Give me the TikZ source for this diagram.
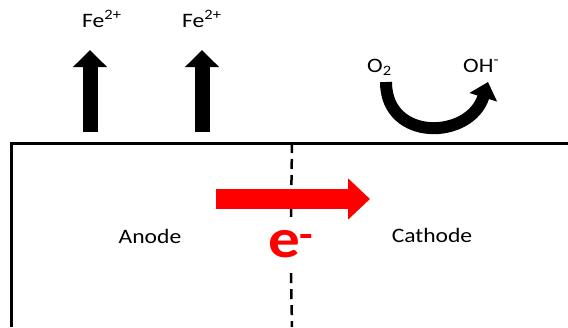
\documentclass[tikz,border=0pt]{standalone}
\usepackage{fontspec}
\setmainfont{Carlito}[FakeStretch=1.15]
\usetikzlibrary{arrows.meta,positioning}

\begin{document}
\begin{tikzpicture}[
  x=1pt,y=-1pt,
  tag/.style={font=\fontsize{20.5}{24}\selectfont,inner sep=0pt},
  ion/.style={line width=15pt,-{Triangle[width=33pt,length=17pt]}},
  eflow/.style={red,line width=20pt,-{Triangle[width=40pt,length=22pt]}},
  swing/.style={line width=12pt,-{Triangle[width=28pt,length=16pt]}},
  divider/.style={line width=2.5pt,dash pattern=on 10pt off 6pt}
]
  \useasboundingbox (0,0) rectangle (568,327);

  % metal surface
  \draw[line width=3pt] (11,327) |- (568,143);

  % labels
  \node[tag,anchor=base west] (fe1) at (82,27) {Fe\textsuperscript{2+}};
  \node[tag,anchor=base west] (fe2) at (182,27) {Fe\textsuperscript{2+}};
  \node[tag,anchor=base west] (o2) at (367,72) {O\textsubscript{2}};
  \node[tag,anchor=base west] (oh) at (463,72) {OH\textsuperscript{-}};
  \node[tag,anchor=base] (anode) at (150,243) {Anode};
  \node[tag,anchor=base] (cathode) at (432,242) {Cathode};
  \node[red,font=\fontsize{55}{60}\selectfont\bfseries,anchor=base,
        text height=38pt,text depth=14pt,inner sep=2pt] (emin) at (291,257) {e\textsuperscript{-}};

  % anode / cathode boundary
  \coordinate (divtop) at (292,143);
  \coordinate (divbot) at (292,327);
  \draw[divider] (divtop) -- (emin.north);
  \draw[divider] (emin.south) -- (divbot);

  % iron ions leaving
  \coordinate (base1) at (90,132);
  \coordinate (tip1) at (90,50);
  \coordinate (base2) at (202,132);
  \coordinate (tip2) at (202,50);
  \draw[ion] (base1) -- (tip1);
  \draw[ion] (base2) -- (tip2);

  % oxygen reduction
  \coordinate (o2in) at (386,82);
  \coordinate (ohout) at (488,82);
  \draw[swing] (o2in) .. controls (386,142) and (470,140) .. (ohout);

  % electron flow
  \coordinate (estart) at (216,199);
  \coordinate (eend) at (370,199);
  \draw[eflow] (estart) -- (eend);
\end{tikzpicture}
\end{document}
